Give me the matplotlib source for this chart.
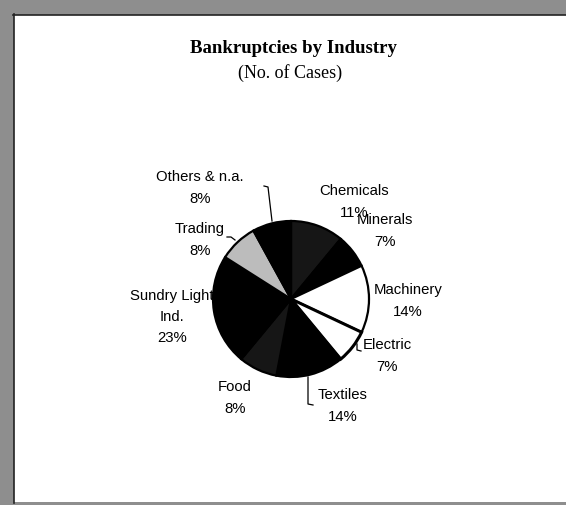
import numpy as np
import matplotlib.pyplot as plt
from matplotlib.patches import Rectangle

# Bankruptcies by industry, share of cases (%), clockwise from 12 o'clock
industries = ['Chemicals', 'Minerals', 'Machinery', 'Electric', 'Textiles',
              'Food', 'Sundry Light\nInd.', 'Trading', 'Others & n.a.']
shares = [11, 7, 14, 7, 14, 8, 23, 8, 8]

fills = ['#161616', 'black', 'white', 'white', 'black',
         '#161616', 'black', '#bcbcbc', 'black']

# label centres in picture pixels (x, y from top)
label_pos = [(354, 202), (385, 231), (408, 301), (387, 356), (343, 406),
             (235, 398), (172, 317), (200, 240), (200, 188)]

W, H = 566, 506
cx, cy, r = 291, 300, 78


def fy(y):
    # picture y (from top) -> axes y
    return H - y


fig = plt.figure(figsize=(W / 100, H / 100), dpi=100, facecolor='#8e8e8e')
ax = fig.add_axes([0, 0, 1, 1])

# white panel with a thin dark frame on top and left
ax.add_patch(Rectangle((14, fy(503)), W - 14, 503 - 16, facecolor='white',
                       edgecolor='none', zorder=0))
ax.plot([13, W], [fy(15.5), fy(15.5)], color='#222222', lw=1.2, zorder=1)
ax.plot([13.5, 13.5], [fy(15), fy(504)], color='#222222', lw=1.2, zorder=1)

wedges, _ = ax.pie(shares, colors=fills, startangle=90, counterclock=False,
                   center=(cx, fy(cy)), radius=r,
                   wedgeprops=dict(edgecolor='black', linewidth=1.6))
wedges[3].set_linewidth(2.2)

ax.set_xlim(0, W)
ax.set_ylim(0, H)
ax.set_axis_off()

for name, v, (x, y) in zip(industries, shares, label_pos):
    ax.text(x, fy(y), f'{name}\n{v}%', ha='center', va='center',
            fontsize=10.7, family='Liberation Sans', linespacing=1.65)

# leader lines
ax.plot([264, 268, 272], [fy(187), fy(188), fy(222)], color='black', lw=0.9)
ax.plot([227, 231, 235], [fy(238), fy(238), fy(241)], color='black', lw=0.9)
ax.plot([357, 357, 361], [fy(345), fy(351), fy(352)], color='black', lw=0.9)
ax.plot([308, 308, 313], [fy(378), fy(405), fy(406)], color='black', lw=0.9)

ax.text(293, fy(48), 'Bankruptcies by Industry', ha='center', va='center',
        fontsize=13.5, fontweight='bold', family='Liberation Serif')
ax.text(290, fy(73), '(No. of Cases)', ha='center', va='center',
        fontsize=13, family='Liberation Serif')

fig.savefig('out.png', dpi=100, facecolor=fig.get_facecolor())
